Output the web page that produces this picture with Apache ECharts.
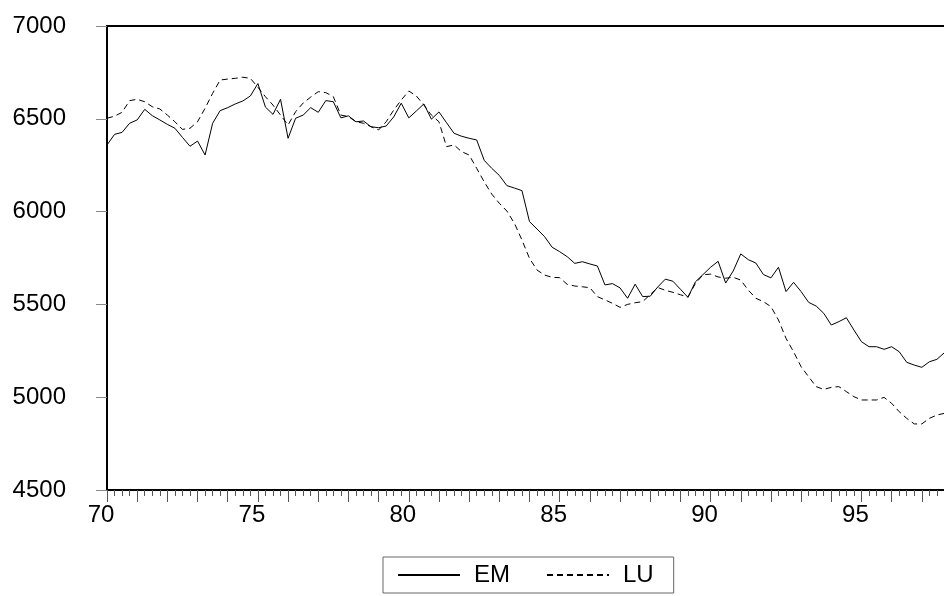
<!DOCTYPE html>
<html>
<head>
<meta charset="utf-8">
<script src="https://cdn.jsdelivr.net/npm/echarts@6/dist/echarts.min.js"></script>
<style>
html,body{margin:0;padding:0;background:#fff;}
#chart{width:944px;height:596px;}
</style>
</head>
<body>
<div id="chart"></div>
<script>
// Quarterly observations, 1970Q1 .. 1997Q4 (years written as two digits)
var startYear = 70;
var seriesNames = ['EM', 'LU'];
var em = [6359,6416,6427,6476,6494,6551,6517,6494,6470,6449,6400,6352,6380,6305,6476,6544,6560,6580,6596,6623,
          6690,6563,6524,6605,6395,6503,6520,6560,6535,6598,6592,6505,6516,6484,6488,6457,6452,6461,6510,6584,
          6505,6542,6580,6498,6537,6479,6422,6406,6395,6386,6276,6233,6195,6140,6127,6113,5946,5906,5865,5808,
          5784,5757,5721,5730,5718,5707,5605,5612,5589,5533,5609,5542,5544,5594,5636,5625,5582,5538,5622,5661,
          5700,5732,5615,5680,5772,5741,5723,5661,5643,5700,5569,5619,5569,5511,5491,5452,5389,5407,5428,5362,
          5299,5272,5272,5258,5272,5245,5188,5173,5161,5191,5204,5240];
var lu = [6503,6514,6535,6598,6605,6592,6565,6553,6520,6484,6443,6449,6484,6557,6637,6709,6714,6718,6724,6718,
          6670,6619,6574,6520,6467,6538,6585,6617,6646,6641,6619,6520,6512,6484,6476,6457,6440,6484,6547,6601,
          6650,6623,6574,6520,6484,6350,6359,6323,6305,6233,6160,6094,6045,6003,5937,5847,5748,5685,5658,5646,
          5644,5608,5599,5595,5590,5542,5524,5506,5484,5500,5509,5515,5553,5591,5576,5565,5552,5540,5613,5660,
          5663,5648,5641,5646,5631,5577,5533,5515,5488,5416,5317,5245,5164,5110,5057,5042,5053,5057,5030,5003,
          4985,4985,4985,4999,4967,4922,4886,4856,4856,4886,4904,4913];
var xLabelYears = [70, 75, 80, 85, 90, 95];
var yTicks = [4500, 5000, 5500, 6000, 6500, 7000];

function toPairs(vals) {
  var out = [];
  for (var i = 0; i < vals.length; i++) out.push([startYear + i / 4, vals[i]]);
  return out;
}

var FONT = '"Liberation Sans", Arial, Helvetica, sans-serif';
var chart = echarts.init(document.getElementById('chart'), null, {renderer: 'canvas'});
chart.setOption({
  animation: false,
  backgroundColor: '#fff',
  grid: {left: 107, top: 26, width: 845, bottom: 106, outerBoundsMode: 'none', containLabel: false,
         show: true, borderColor: '#000', borderWidth: 2, backgroundColor: 'transparent'},
  legend: {
    data: seriesNames,
    left: 383, top: 557,
    orient: 'horizontal',
    itemWidth: 62, itemHeight: 14, itemGap: 36,
    padding: [6, 20, 6, 14],
    borderColor: '#666', borderWidth: 1,
    itemStyle: {color: 'transparent', borderWidth: 0, opacity: 0},
    textStyle: {fontFamily: FONT, fontSize: 24, color: '#000', padding: [0, 0, 0, 9]}
  },
  xAxis: {
    type: 'value', min: 70, max: 98, interval: 1,
    axisLine: {show: true, lineStyle: {color: '#000', width: 2}},
    axisTick: {show: true, length: 12, lineStyle: {color: '#555', width: 1}},
    minorTick: {show: true, splitNumber: 4, length: 6, lineStyle: {color: '#555', width: 1}},
    splitLine: {show: false}, minorSplitLine: {show: false},
    axisLabel: {
      margin: 13, fontFamily: FONT, fontSize: 24, color: '#000', padding: [0, 12, 0, 0],
      formatter: function (v) { return xLabelYears.indexOf(v) >= 0 ? String(v) : ''; }
    }
  },
  yAxis: {
    type: 'value', min: yTicks[0], max: yTicks[yTicks.length - 1], interval: 500,
    axisLine: {show: true, lineStyle: {color: '#000', width: 2}},
    axisTick: {show: true, length: 11, lineStyle: {color: '#888', width: 1}},
    splitLine: {show: false},
    axisLabel: {margin: 41, fontFamily: FONT, fontSize: 24, color: '#000',
      formatter: function (v) { return String(v); }}
  },
  series: [
    {name: seriesNames[0], type: 'line', data: toPairs(em), symbol: 'none', showSymbol: false,
     lineStyle: {color: '#000', width: 1, type: 'solid'}, itemStyle: {color: '#000'}},
    {name: seriesNames[1], type: 'line', data: toPairs(lu), symbol: 'none', showSymbol: false,
     lineStyle: {color: '#000', width: 1, type: [6, 4]}, itemStyle: {color: '#000'}}
  ]
});
</script>
</body>
</html>
